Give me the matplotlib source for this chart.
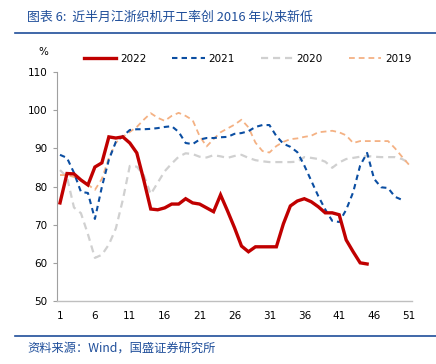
import matplotlib
matplotlib.use("Agg")
import matplotlib.pyplot as plt
from matplotlib.lines import Line2D

plt.rcParams['font.family'] = ['DejaVu Sans', 'Noto Sans CJK SC']

weeks_2022 = list(range(1, 46))
y2022 = [75.7, 83.4, 83.3, 81.7, 80.4, 85.1, 86.2, 93.0, 92.7, 93.0,
         91.4, 88.8, 81.7, 74.1, 73.9, 74.4, 75.4, 75.4, 76.8, 75.7,
         75.4, 74.4, 73.4, 77.8, 73.6, 69.2, 64.4, 62.9, 64.2, 64.2,
         64.2, 64.2, 70.2, 74.9, 76.2, 76.8, 76.0, 74.7, 73.1, 73.1,
         72.6, 66.0, 62.9, 60.0, 59.7]

weeks_2021 = list(range(1, 51))
y2021 = [88.3, 87.5, 83.6, 78.6, 78.3, 71.5, 79.9, 87.0, 91.7, 93.2,
         94.8, 95.0, 95.0, 95.1, 95.3, 95.6, 95.8, 94.3, 91.4, 91.1,
         92.3, 92.7, 92.7, 92.9, 93.0, 93.8, 94.0, 94.5, 95.6, 96.1,
         96.1, 93.2, 91.2, 90.4, 89.0, 85.5, 81.5, 77.5, 74.0, 71.0,
         70.7, 73.9, 78.5, 85.5, 88.8, 82.0, 79.8, 79.6, 77.3, 76.5]

weeks_2020 = list(range(1, 52))
y2020 = [84.3, 82.5, 74.5, 73.0, 67.5, 61.3, 62.1, 64.8, 69.0, 76.5,
         85.4, 85.2, 83.0, 78.0, 81.0, 84.0, 86.0, 87.8, 88.7, 88.5,
         87.8, 87.6, 88.2, 87.9, 87.5, 88.0, 88.3, 87.5, 86.9, 86.6,
         86.4, 86.4, 86.4, 86.4, 86.5, 87.7, 87.5, 87.2, 86.5, 84.9,
         86.3, 87.2, 87.5, 87.8, 88.0, 87.8, 87.7, 87.7, 87.7, 87.2,
         86.2]

weeks_2019 = list(range(1, 52))
y2019 = [83.0, 83.0, 82.5, 81.8, 80.5, 79.1, 82.0, 87.5, 91.5, 93.0,
         94.3, 95.6, 97.5, 99.2, 98.0, 97.2, 98.5, 99.3, 98.5, 97.4,
         93.2, 90.5, 92.4, 94.2, 95.2, 96.2, 97.5, 95.5, 91.5, 89.3,
         88.9, 90.6, 91.7, 92.4, 92.6, 93.0, 93.3, 94.2, 94.4, 94.6,
         94.2, 93.4, 91.4, 91.9, 91.9, 91.9, 91.9, 91.9, 90.0, 87.8,
         85.7]

x_ticks = [1, 6, 11, 16, 21, 26, 31, 36, 41, 46, 51]
y_ticks = [50, 60, 70, 80, 90, 100, 110]

title_text = "图表 6:  近半月江浙织机开工率创 2016 年以来新低"
source_text = "资料来源：Wind，国盛证券研究所"

c2022 = "#C00000"
c2021 = "#0B4EA2"
c2020 = "#D0D0D0"
c2019 = "#F4B183"
cblue = "#1F4E9A"

fig = plt.figure(figsize=(4.36, 3.64), dpi=100)
ax = fig.add_axes([57/436, 1-301/364, (412-57)/436, (301-72)/364])

ax.plot(weeks_2020, y2020, color=c2020, lw=1.6, dashes=(3.2, 2.2), zorder=2)
ax.plot(weeks_2019, y2019, color=c2019, lw=1.3, dashes=(3.2, 2.2), zorder=3)
ax.plot(weeks_2021, y2021, color=c2021, lw=1.5, dashes=(2.6, 2.0), zorder=4)
ax.plot(weeks_2022, y2022, color=c2022, lw=2.4, zorder=5, solid_joinstyle='miter')

ax.set_xlim(0.57, 51.43)
ax.set_ylim(50, 110)
ax.set_xticks(x_ticks)
ax.set_yticks(y_ticks)
ax.tick_params(axis='x', length=0, pad=7, labelsize=7.5, colors='black')
ax.tick_params(axis='y', length=3, width=0.8, color='#A0A0A0', pad=4, labelsize=7.5)
for s in ['top', 'right']:
    ax.spines[s].set_visible(False)
ax.spines['left'].set_color('#A0A0A0')
ax.spines['bottom'].set_color('#BFBFBF')
ax.spines['left'].set_linewidth(0.8)
ax.spines['bottom'].set_linewidth(1.0)

fig.text(43/436, 1-52/364, "%", fontsize=7.5, ha='center', va='center')

handles = [Line2D([0], [0], color=c2022, lw=2.4),
           Line2D([0], [0], color=c2021, lw=1.5, dashes=(2.6, 2.0)),
           Line2D([0], [0], color=c2020, lw=1.6, dashes=(3.2, 2.2)),
           Line2D([0], [0], color=c2019, lw=1.3, dashes=(3.2, 2.2))]
fig.legend(handles, ["2022", "2021", "2020", "2019"], loc='center',
           bbox_to_anchor=(247.5/436, 1-59/364), ncol=4, frameon=False,
           fontsize=7.5, handlelength=3.1, handletextpad=0.35, columnspacing=2.5,
           borderaxespad=0, borderpad=0)

fig.text(27/436, 1-17/364, title_text, fontsize=9.3, color=cblue,
         family=['Noto Sans CJK SC', 'DejaVu Sans'], style='italic',
         ha='left', va='center')
fig.add_artist(Line2D([15/436, 1.0], [1-33/364, 1-33/364], color=cblue, lw=1.2))
fig.add_artist(Line2D([15/436, 1.0], [1-336/364, 1-336/364], color=cblue, lw=1.2))
fig.text(27/436, 1-348/364, source_text, fontsize=8.8, color=cblue,
         family=['Noto Sans CJK SC', 'DejaVu Sans'], style='italic',
         ha='left', va='center')

fig.savefig("out.png", dpi=100)
